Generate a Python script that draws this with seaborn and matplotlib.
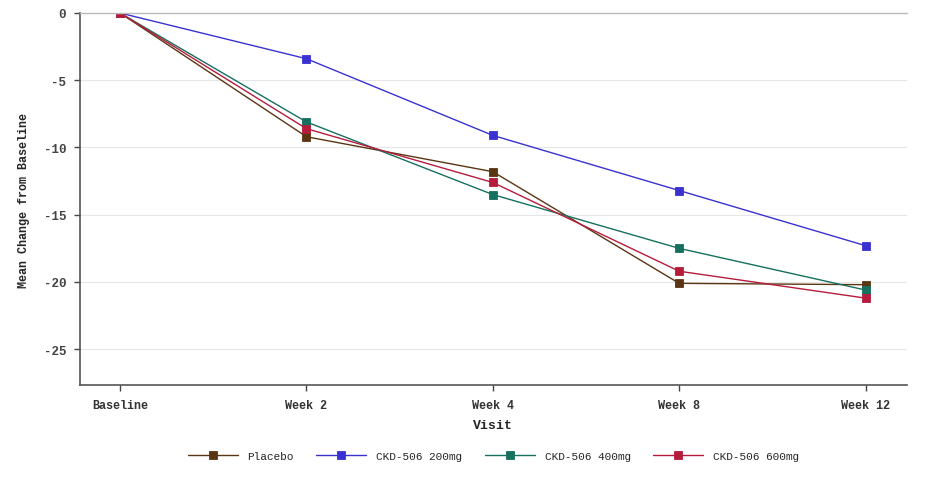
import matplotlib
matplotlib.use('Agg')
import matplotlib.pyplot as plt
import pandas as pd
import seaborn as sns

visits = ['Baseline', 'Week 2', 'Week 4', 'Week 8', 'Week 12']
groups = ['Placebo', 'CKD-506 200mg', 'CKD-506 400mg', 'CKD-506 600mg']

placebo = [0, -9.2, -11.8, -20.1, -20.2]
dose_200 = [0, -3.4, -9.1, -13.2, -17.3]
dose_400 = [0, -8.1, -13.5, -17.5, -20.6]
dose_600 = [0, -8.6, -12.6, -19.2, -21.2]

colors = ['#5a3512', '#3a32d0', '#16705f', '#b51c3c']

sns.set_theme(style='white')
plt.rcParams['font.family'] = ['Liberation Mono', 'DejaVu Sans Mono']

rows = []
for g, vals in zip(groups, [placebo, dose_200, dose_400, dose_600]):
    for i, v in enumerate(vals):
        rows.append({'visit': i, 'group': g, 'change': v})
df = pd.DataFrame(rows)

fig = plt.figure(figsize=(9.33, 4.89), dpi=100)
ax = fig.add_axes([0.0857, 0.2106, 0.886, 0.7608])

sns.lineplot(data=df, x='visit', y='change', hue='group', hue_order=groups,
             palette=colors, style='group', markers=['s'] * 4, dashes=False,
             markersize=6, markeredgewidth=0.6, linewidth=1.0, ax=ax)

# markers drawn solid, no white rim
for line in ax.lines:
    line.set_markeredgecolor(line.get_color())

ax.set_xlim(-0.215, 4.22)
ax.set_ylim(-27.66, 0)
ax.set_xticks(range(len(visits)))
ax.set_xticklabels(visits, fontsize=8.5, fontweight='bold', color='#333333')
ax.set_yticks([0, -5, -10, -15, -20, -25])
ax.set_yticklabels(['0', '-5', '-10', '-15', '-20', '-25'], fontsize=9,
                   fontweight='bold', color='#444444')
ax.yaxis.grid(True, color='#e6e6e6', linewidth=0.8)
ax.set_axisbelow(True)
ax.tick_params(axis='both', length=4, width=1, color='#444444', direction='out',
               bottom=True, left=True, pad=6)

for side in ['left', 'bottom']:
    ax.spines[side].set_color('#555555')
    ax.spines[side].set_linewidth(1.2)
ax.spines['top'].set_color('#bbbbbb')
ax.spines['top'].set_linewidth(1.0)
ax.spines['right'].set_visible(False)

ax.set_xlabel('Visit', fontsize=9.5, fontweight='bold', labelpad=6)
ax.set_ylabel('Mean Change from Baseline', fontsize=8.5, fontweight='bold',
              labelpad=10)

handles, labels = ax.get_legend_handles_labels()
for h in handles:
    h.set_markeredgecolor(h.get_color())
ax.legend(handles, labels, loc='center', bbox_to_anchor=(0.5, -0.19),
          ncol=4, frameon=False, fontsize=8, handlelength=4.5,
          columnspacing=2.0, handletextpad=0.9)

fig.savefig('out.png', dpi=100)
